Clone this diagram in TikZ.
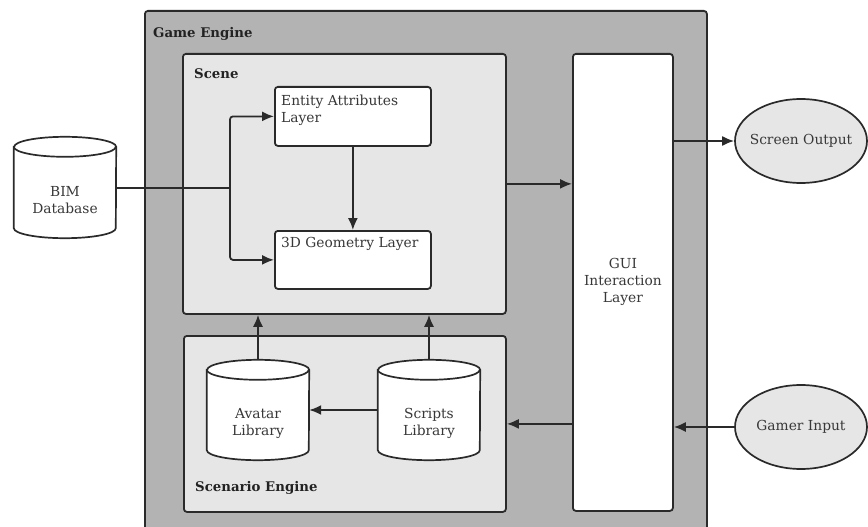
\documentclass[tikz,border=0pt]{standalone}
\usepackage{fontspec}
\setmainfont{DejaVu Serif}
\usetikzlibrary{arrows.meta,shapes.geometric}
\definecolor{outerfill}{HTML}{B3B3B3}
\definecolor{innerfill}{HTML}{E6E6E6}
\definecolor{linec}{HTML}{2A2A2A}
\definecolor{textc}{HTML}{383838}
\definecolor{titlec}{HTML}{222222}
\newcommand\cylpath[2]{%
  \draw[cylline] ([yshift=-10pt]#1.north west) -- ([yshift=10pt]#1.south west)
    arc[start angle=180,end angle=360,x radius=#2,y radius=10pt]
    -- ([yshift=-10pt]#1.north east)
    arc[start angle=0,end angle=180,x radius=#2,y radius=10pt] -- cycle;
  \draw[cylline,fill=none] ([yshift=-10pt]#1.north west)
    arc[start angle=180,end angle=360,x radius=#2,y radius=10pt];}
\begin{document}
\begin{tikzpicture}[x=1pt,y=-1pt,
  txt/.style={text=textc, font=\fontsize{13.8}{17}\selectfont, align=center, inner sep=0pt},
  frame/.style={draw=linec, line width=1.8pt, rounded corners=3pt, inner sep=0pt},
  container/.style={frame, anchor=north west},
  layerbox/.style={frame, fill=white, anchor=north west, minimum width=156pt},
  cylnode/.style={draw=none, inner sep=0pt},
  cylline/.style={draw=linec, line width=1.7pt, fill=white},
  oval/.style={ellipse, draw=linec, line width=1.7pt, fill=innerfill, minimum width=132pt, minimum height=84pt, inner sep=0pt},
  title/.style={text=titlec, font=\bfseries\fontsize{13.3}{15}\selectfont, anchor=base west, inner sep=0pt},
  wire/.style={draw=linec, line width=1.8pt, rounded corners=3pt},
  conn/.style={wire, -{Latex[length=12pt,width=10pt]}}
]
\useasboundingbox (0,0) rectangle (868,527);
\clip (0,0) rectangle (868,527);
% containers
\node[container, fill=outerfill, minimum width=562pt, minimum height=540pt] (engine) at (144,10) {};
\node[title] (enginelbl) at (153,37.5) {Game Engine};
\node[container, fill=innerfill, minimum width=323pt, minimum height=260pt] (scene) at (182,53) {};
\node[title] (scenelbl) at (194,79) {Scene};
\node[container, fill=innerfill, minimum width=322pt, minimum height=176pt] (scenario) at (183,335) {};
\node[title] (scenariolbl) at (195,491) {Scenario Engine};
% layers
\node[layerbox, minimum height=59pt] (ea) at (274,86) {};
\node[txt, anchor=north west, align=left] (eatxt) at (281,95) {Entity Attributes\\Layer};
\node[layerbox, minimum height=58pt] (geo) at (274,230) {};
\node[txt, anchor=north west, align=left] (geotxt) at (281,237.5) {3D Geometry Layer};
% GUI
\node[container, fill=white, minimum width=100pt, minimum height=457pt] (gui) at (572,53) {};
\node[txt] (guitxt) at (gui.center) {GUI\\Interaction\\Layer};
% cylinders
\node[cylnode, minimum width=102pt, minimum height=101pt] (bim) at (65,187.5) {};
\cylpath{bim}{51pt}
\node[txt] (bimtxt) at (65,200) {BIM\\Database};
\node[cylnode, minimum width=102pt, minimum height=100pt] (avatar) at (258,410) {};
\cylpath{avatar}{51pt}
\node[txt] (avatartxt) at (258,423.5) {Avatar\\Library};
\node[cylnode, minimum width=102pt, minimum height=100pt] (scripts) at (429,410) {};
\cylpath{scripts}{51pt}
\node[txt] (scriptstxt) at (429,423.5) {Scripts\\Library};
% ellipses
\node[oval] (screen) at (801,141) {};
\node[txt] (screentxt) at (screen.center) {Screen Output};
\node[oval] (gamer) at (801,427) {};
\node[txt] (gamertxt) at (gamer.center) {Gamer Input};
% connectors
\coordinate (junc) at (230,188);
\draw[wire] (bim.east |- junc) -- (junc);
\draw[conn] (junc) |- (ea.west);
\draw[conn] (junc) |- (geo.west);
\draw[conn] (ea.south) -- (geo.north);
\draw[conn] (scene.east) -- (gui.west |- scene.east);
\draw[conn] (gui.east |- screen.west) -- (screen.west);
\draw[conn] (gamer.west) -- (gui.east |- gamer.west);
\draw[conn] (gui.west |- scenario.east) -- (scenario.east);
\draw[conn] (scripts.west) -- (avatar.east);
\draw[conn] (avatar.north) -- (avatar.north |- scene.south);
\draw[conn] (scripts.north) -- (scripts.north |- scene.south);
\end{tikzpicture}
\end{document}
